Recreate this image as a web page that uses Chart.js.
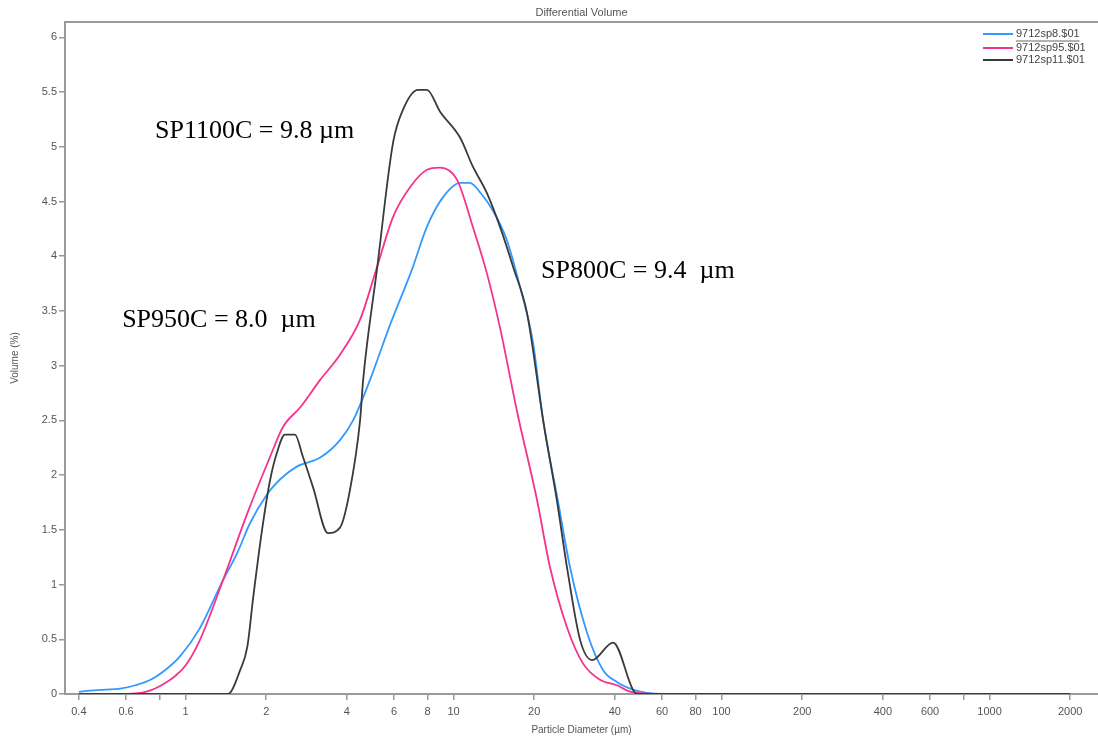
<!DOCTYPE html>
<html>
<head>
<meta charset="utf-8">
<script src="https://cdn.jsdelivr.net/npm/chart.js@4/dist/chart.umd.min.js"></script>
<style>
html,body{margin:0;padding:0;background:#fff;}
canvas{display:block;}
</style>
</head>
<body>
<canvas id="c" width="1098" height="738"></canvas>
<script>
// ---- data ----
const seriesNames = ['9712sp8.$01', '9712sp95.$01', '9712sp11.$01'];

const blueD = [0.4,0.44,0.5,0.57,0.65,0.74,0.84,0.95,1.13,1.38,1.56,1.74,2.01,2.25,2.61,3.18,3.77,4.22,4.88,5.79,7.0,7.96,9.14,10.6,11.5,12.6,14.0,15.8,17.7,19.8,21.6,24.5,27.2,31.5,36.1,40.7,46.7,52.7,60,2000];
const blueV = [0.02,0.03,0.04,0.05,0.08,0.13,0.22,0.34,0.60,1.04,1.29,1.56,1.82,1.96,2.08,2.16,2.32,2.50,2.87,3.37,3.88,4.27,4.54,4.67,4.67,4.58,4.42,4.15,3.72,3.21,2.50,1.77,1.16,0.56,0.22,0.11,0.04,0.01,0,0];

const pinkD = [0.4,0.57,0.65,0.71,0.77,0.84,0.91,1.0,1.13,1.38,1.70,2.07,2.31,2.68,3.18,3.77,4.48,5.18,5.95,6.88,7.96,8.91,10.3,11.8,13.3,14.9,17.3,20.5,22.9,26.5,30.4,35.2,40.7,45.9,62.6,2000];
const pinkV = [0,0,0.005,0.02,0.05,0.10,0.16,0.26,0.49,1.04,1.65,2.17,2.44,2.62,2.87,3.10,3.42,3.90,4.36,4.63,4.79,4.81,4.70,4.27,3.85,3.35,2.57,1.77,1.16,0.61,0.28,0.13,0.08,0.02,0,0];

const blackD = [0.4,1.44,1.60,1.70,1.79,1.93,2.07,2.19,2.35,2.56,2.74,2.99,3.40,3.77,4.09,4.48,4.60,5.18,5.95,6.48,7.37,7.96,8.91,10.6,11.8,13.3,14.9,16.7,18.8,21.6,24.3,26.5,29.7,32.9,39.4,46.7,48.4,2000];
const blackV = [0,0,0.22,0.43,0.89,1.50,1.96,2.20,2.37,2.37,2.17,1.89,1.47,1.52,1.84,2.50,2.87,3.88,5.04,5.34,5.52,5.52,5.32,5.08,4.82,4.58,4.27,3.90,3.48,2.50,1.77,1.16,0.49,0.31,0.47,0.04,0,0];

const xTickValues = [0.4,0.6,0.8,1,2,4,6,8,10,20,40,60,80,100,200,400,600,800,1000,2000];
const xTickLabels = ['0.4','0.6','','1','2','4','6','8','10','20','40','60','80','100','200','400','600','','1000','2000'];
const yTickValues = [0,0.5,1,1.5,2,2.5,3,3.5,4,4.5,5,5.5,6];
const yTickLabels = ['0','0.5','1','1.5','2','2.5','3','3.5','4','4.5','5','5.5','6'];

const chartTitle = 'Differential Volume';
const xTitle = 'Particle Diameter (µm)';
const yTitle = 'Volume (%)';

// annotations (text, diameter, volume)
const noteTexts = ['SP1100C = 9.8 µm', 'SP800C = 9.4  µm', 'SP950C = 8.0  µm'];
const noteD = [0.769, 21.2, 0.580];
const noteV = [5.08, 3.80, 3.35];

// ---- chart ----
const toPts = (d, v) => d.map((x, i) => ({x: x, y: v[i]}));
const colors = ['#3399ff', '#f5338f', '#3a3a3a'];

const decor = {
  id: 'decor',
  afterDatasetsDraw(chart) {
    const c = chart.ctx, a = chart.chartArea;
    const xs = chart.scales.x, ys = chart.scales.y;
    c.save();
    // top frame line
    c.strokeStyle = '#9a9a9a'; c.lineWidth = 2;
    c.beginPath(); c.moveTo(a.left, a.top); c.lineTo(a.right, a.top); c.stroke();
    // title
    c.fillStyle = '#555'; c.font = '11px "Liberation Sans", Arial, sans-serif';
    c.textAlign = 'center'; c.textBaseline = 'middle';
    c.fillText(chartTitle, (a.left + a.right) / 2, 13);
    // legend
    const rows = [34, 48, 60];
    c.textAlign = 'left';
    chart.data.datasets.forEach((ds, i) => {
      const y = rows[i];
      c.strokeStyle = ds.borderColor; c.lineWidth = 2;
      c.beginPath(); c.moveTo(a.right - 115, y); c.lineTo(a.right - 85, y); c.stroke();
      c.fillStyle = '#444'; c.font = '11px "Liberation Sans", Arial, sans-serif';
      c.fillText(ds.label, a.right - 82, y);
      if (i === 0) {
        const w = c.measureText(ds.label).width;
        c.strokeStyle = '#666'; c.lineWidth = 1;
        c.beginPath(); c.moveTo(a.right - 82, y + 7); c.lineTo(a.right - 82 + w, y + 7); c.stroke();
      }
    });
    // annotations
    c.fillStyle = '#000'; c.font = '26px "Liberation Serif", "Times New Roman", serif';
    c.textAlign = 'left'; c.textBaseline = 'alphabetic';
    noteTexts.forEach((t, i) => {
      c.fillText(t, xs.getPixelForValue(noteD[i]), ys.getPixelForValue(noteV[i]));
    });
    c.restore();
  }
};

const tickFont = {family: '"Liberation Sans", Arial, sans-serif', size: 11};

new Chart(document.getElementById('c'), {
  type: 'line',
  data: {
    datasets: [
      {label: seriesNames[0], data: toPts(blueD, blueV), borderColor: colors[0], order: 2},
      {label: seriesNames[1], data: toPts(pinkD, pinkV), borderColor: colors[1], order: 1},
      {label: seriesNames[2], data: toPts(blackD, blackV), borderColor: colors[2], order: 0}
    ]
  },
  options: {
    responsive: false,
    animation: false,
    devicePixelRatio: 1,
    elements: {
      point: {radius: 0, hoverRadius: 0},
      line: {borderWidth: 1.8, cubicInterpolationMode: 'monotone', fill: false}
    },
    layout: {padding: {top: 22, right: 0, left: 0, bottom: 0}},
    plugins: {legend: {display: false}, tooltip: {enabled: false}, title: {display: false}},
    scales: {
      x: {
        type: 'logarithmic', min: 0.355, max: 2540,
        border: {display: true, color: '#9a9a9a', width: 2},
        grid: {display: true, drawOnChartArea: false, drawTicks: true, tickLength: 6, color: '#9a9a9a', lineWidth: 1.5},
        ticks: {autoSkip: false, maxRotation: 0, minRotation: 0, padding: 5, color: '#555', font: tickFont,
                callback: (v, i) => xTickLabels[i]},
        afterBuildTicks: axis => { axis.ticks = xTickValues.map(v => ({value: v})); },
        afterFit: axis => { axis.height = 44; },
        title: {display: true, text: xTitle, color: '#555', font: {family: '"Liberation Sans", Arial, sans-serif', size: 10}, padding: {top: 0, bottom: 2}}
      },
      y: {
        type: 'linear', min: 0, max: 6.14,
        border: {display: true, color: '#9a9a9a', width: 2},
        grid: {display: true, drawOnChartArea: false, drawTicks: true, tickLength: 6, color: '#9a9a9a', lineWidth: 1.5},
        ticks: {autoSkip: false, padding: 2, color: '#555', font: tickFont,
                callback: (v, i) => yTickLabels[i]},
        afterBuildTicks: axis => { axis.ticks = yTickValues.map(v => ({value: v})); },
        afterFit: axis => { axis.width = 65; },
        title: {display: true, text: yTitle, color: '#555', font: {family: '"Liberation Sans", Arial, sans-serif', size: 10}, padding: {top: 9, bottom: 0}}
      }
    }
  },
  plugins: [decor]
});
</script>
</body>
</html>
